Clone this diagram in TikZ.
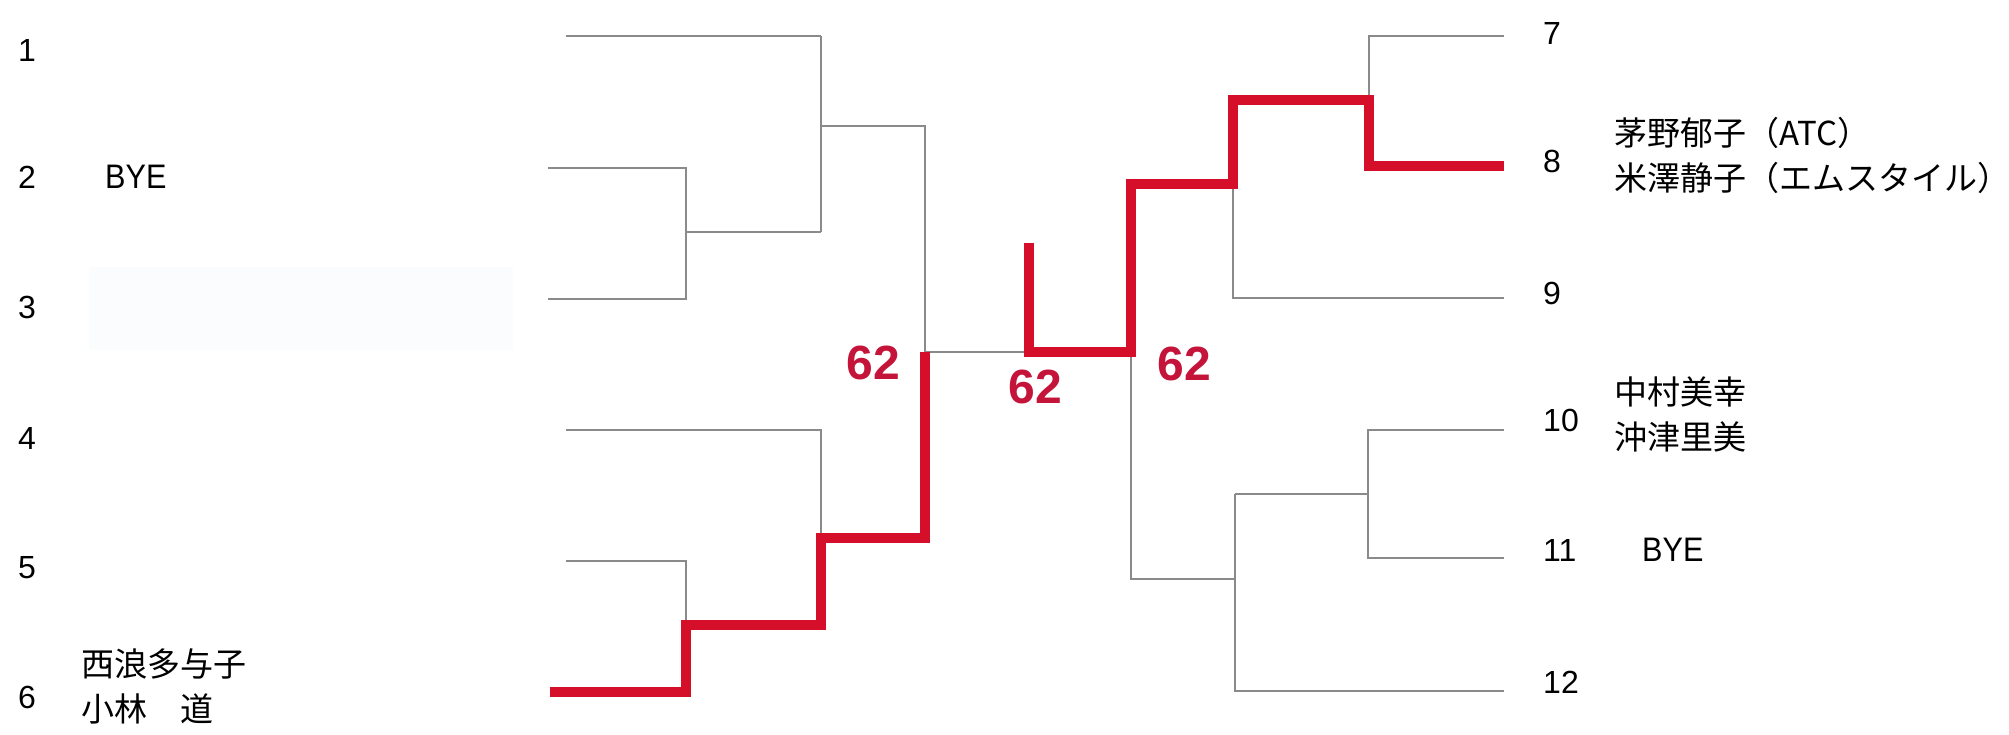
\documentclass[tikz,border=0pt]{standalone}
\usepackage{fontspec}
\setmainfont{Liberation Sans}
\newfontfamily\jpfont{Noto Sans CJK JP}
\newfontfamily\narrowfont[FakeStretch=0.9]{Liberation Sans}
\definecolor{linegray}{HTML}{8A8A8A}
\definecolor{winred}{HTML}{D50F2A}
\definecolor{scorered}{HTML}{C4143A}
\definecolor{faintblue}{HTML}{FAFCFD}
\tikzset{
  gline/.style={draw=linegray, line width=2pt},
  rline/.style={draw=winred, line width=9.5pt, line join=miter},
  num/.style={font=\fontsize{32}{32}\selectfont, inner sep=0pt, anchor=west},
  pname/.style={font=\jpfont\fontsize{33}{45}\selectfont, inner sep=0pt, anchor=west, align=left},
  byelabel/.style={font=\narrowfont\fontsize{34}{34}\selectfont, inner sep=0pt, anchor=west},
  score/.style={font=\bfseries\fontsize{48}{48}\selectfont, text=scorered, inner sep=0pt}
}
\begin{document}
\begin{tikzpicture}[x=1pt, y=-1pt]
\useasboundingbox (0,0) rectangle (2009,734);
\fill[faintblue] (89,267) rectangle (513,350);

% ---------- coordinates, left half ----------
\coordinate (s1) at (566,36);  \coordinate (e1) at (821,36);
\coordinate (s2) at (548,168); \coordinate (e2) at (686,168);
\coordinate (s3) at (548,299); \coordinate (e3) at (686,299);
\coordinate (j23) at (686,232); \coordinate (k23) at (821,232);
\coordinate (j13) at (821,126); \coordinate (k13) at (925,126);
\coordinate (s4) at (566,430); \coordinate (e4) at (821,430);
\coordinate (s5) at (566,561); \coordinate (e5) at (686,561);
\coordinate (s6) at (550,692); \coordinate (e6) at (686,692);
\coordinate (j56) at (686,625); \coordinate (k56) at (821,625);
\coordinate (j46) at (821,538); \coordinate (k46) at (925,538);
\coordinate (fl) at (925,352);
% ---------- coordinates, right half ----------
\coordinate (fr) at (1029,352);
\coordinate (ftop) at (1029,243);
\coordinate (s7) at (1504,36);  \coordinate (e7) at (1369,36);
\coordinate (s8) at (1504,166); \coordinate (e8) at (1369,166);
\coordinate (j78) at (1369,100); \coordinate (k78) at (1233,100);
\coordinate (s9) at (1504,298); \coordinate (e9) at (1233,298);
\coordinate (j79) at (1233,184); \coordinate (k79) at (1131,184);
\coordinate (sfr) at (1131,352);
\coordinate (s10) at (1504,430); \coordinate (e10) at (1368,430);
\coordinate (s11) at (1504,558); \coordinate (e11) at (1368,558);
\coordinate (j1011) at (1368,494); \coordinate (k1011) at (1235,494);
\coordinate (s12) at (1504,691); \coordinate (e12) at (1235,691);
\coordinate (j1012) at (1235,579); \coordinate (k1012) at (1131,579);

% ---------- gray lines ----------
\draw[gline] (s1) -- (e1);
\draw[gline] (s2) -- (e2) -- (e3) -- (s3);
\draw[gline] (j23) -- (k23);
\draw[gline] (e1) -- (k23);
\draw[gline] (j13) -- (k13) -- (fl);
\draw[gline] (s4) -- (e4) -- (j46);
\draw[gline] (s5) -- (e5) -- (j56);
\draw[gline] (fl) -- (fr);
\draw[gline] (s7) -- (e7) -- (j78);
\draw[gline] (s9) -- (e9) -- (j79);
\draw[gline] (sfr) -- (k1012) -- (j1012);
\draw[gline] (s10) -- (e10) -- (e11) -- (s11);
\draw[gline] (j1011) -- (k1011);
\draw[gline] (k1011) -- (e12) -- (s12);

% ---------- red winner paths ----------
\draw[rline] (s6) -- (e6) -- (j56) -- (k56) -- (j46) -- (k46) -- (fl);
\draw[rline] (s8) -- (e8) -- (j78) -- (k78) -- (j79) -- (k79) -- (sfr) -- (fr) -- (ftop);

% ---------- draw numbers ----------
\node[num] (n1) at (18,50) {1};
\node[num] (n2) at (18,177) {2};
\node[num] (n3) at (18,307) {3};
\node[num] (n4) at (18,438) {4};
\node[num] (n5) at (18,568) {5};
\node[num] (n6) at (18,697) {6};
\node[num] (n7) at (1543,33) {7};
\node[num] (n8) at (1543,161) {8};
\node[num] (n9) at (1543,293) {9};
\node[num] (n10) at (1543,420) {10};
\node[num] (n11) at (1543,550) {11};
\node[num] (n12) at (1543,682) {12};

% ---------- names ----------
\node[byelabel] (b2) at (105,177) {BYE};
\node[pname] (p6) at (81,686) {西浪多与子\\小林　道};
\node[pname] (p8) at (1614,155) {茅野郁子（ATC）\\米澤静子（エムスタイル）};
\node[pname] (p10) at (1614,414) {中村美幸\\沖津里美};
\node[byelabel] (b11) at (1642,550) {BYE};

% ---------- scores ----------
\node[score] (sc1) at (873,363) {62};
\node[score] (sc2) at (1035,387) {62};
\node[score] (sc3) at (1184,364) {62};
\end{tikzpicture}
\end{document}
